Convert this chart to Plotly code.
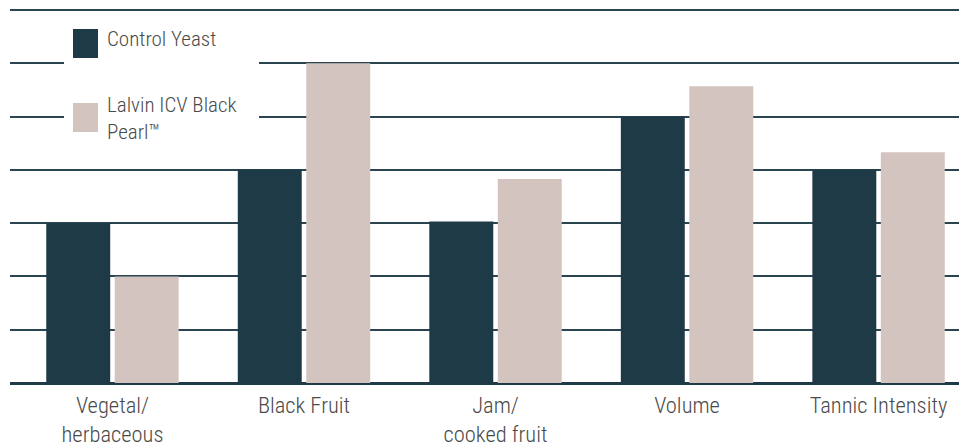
import plotly.graph_objects as go

categories = ["Vegetal/<br>herbaceous", "Black Fruit", "Jam/<br>cooked fruit", "Volume", "Tannic Intensity"]
control_yeast = [3, 4, 3.03, 5, 4]
lalvin_black_pearl = [2, 6, 3.83, 5.57, 4.33]
series_names = ["Control Yeast", "Lalvin ICV Black<br>Pearl™"]
colors = ["#1f3a47", "#d3c4c0"]

W, H = 959, 448
ML, MR, MT, MB = 10, 0, 6, 65
PW, PH = W - ML - MR, H - MT - MB
FONT = "Roboto Condensed, Liberation Sans Narrow, Lato, sans-serif"
TXT = "#4a4a4a"

def xp(px):
    return (px - ML) / PW

def yp(py):
    return (H - MB - py) / PH

fig = go.Figure()
for name, vals, col in zip(series_names, [control_yeast, lalvin_black_pearl], colors):
    fig.add_trace(go.Bar(x=categories, y=vals, name=name, marker=dict(color=col, line=dict(width=0)),
                         showlegend=False))

shapes = [
    dict(type="rect", xref="paper", yref="paper", x0=xp(64), x1=xp(259), y0=yp(150), y1=yp(20),
         fillcolor="white", line=dict(width=0), layer="above"),
]
annotations = []
legend_rows = [(29, 58, 39), (103, 132, 118)]
for (top, bot, ty), name, col in zip(legend_rows, series_names, colors):
    shapes.append(dict(type="rect", xref="paper", yref="paper", x0=xp(73), x1=xp(98), y0=yp(bot), y1=yp(top),
                       fillcolor=col, line=dict(width=0), layer="above"))
    annotations.append(dict(text=name, xref="paper", yref="paper", x=xp(105), y=yp(ty), xanchor="left",
                            yanchor="middle", showarrow=False, align="left",
                            font=dict(family=FONT, size=21, color=TXT, weight=300)))

fig.update_layout(
    width=W, height=H,
    margin=dict(l=ML, r=MR, t=MT, b=MB),
    paper_bgcolor="white", plot_bgcolor="white",
    barmode="group", bargap=0.285, bargroupgap=0.066,
    shapes=shapes, annotations=annotations,
    xaxis=dict(type="category", range=[-0.535, 4.42], showgrid=False, showline=False, ticks="",
               tickfont=dict(family=FONT, size=22.5, color=TXT, weight=300), ticklabelstandoff=6),
    yaxis=dict(range=[0, 7.075], dtick=1, showticklabels=False, showgrid=True, gridcolor="#2a4450",
               gridwidth=2, zeroline=True, zerolinecolor="#1f3a47", zerolinewidth=3, showline=False),
)

fig.write_html("out.html")
